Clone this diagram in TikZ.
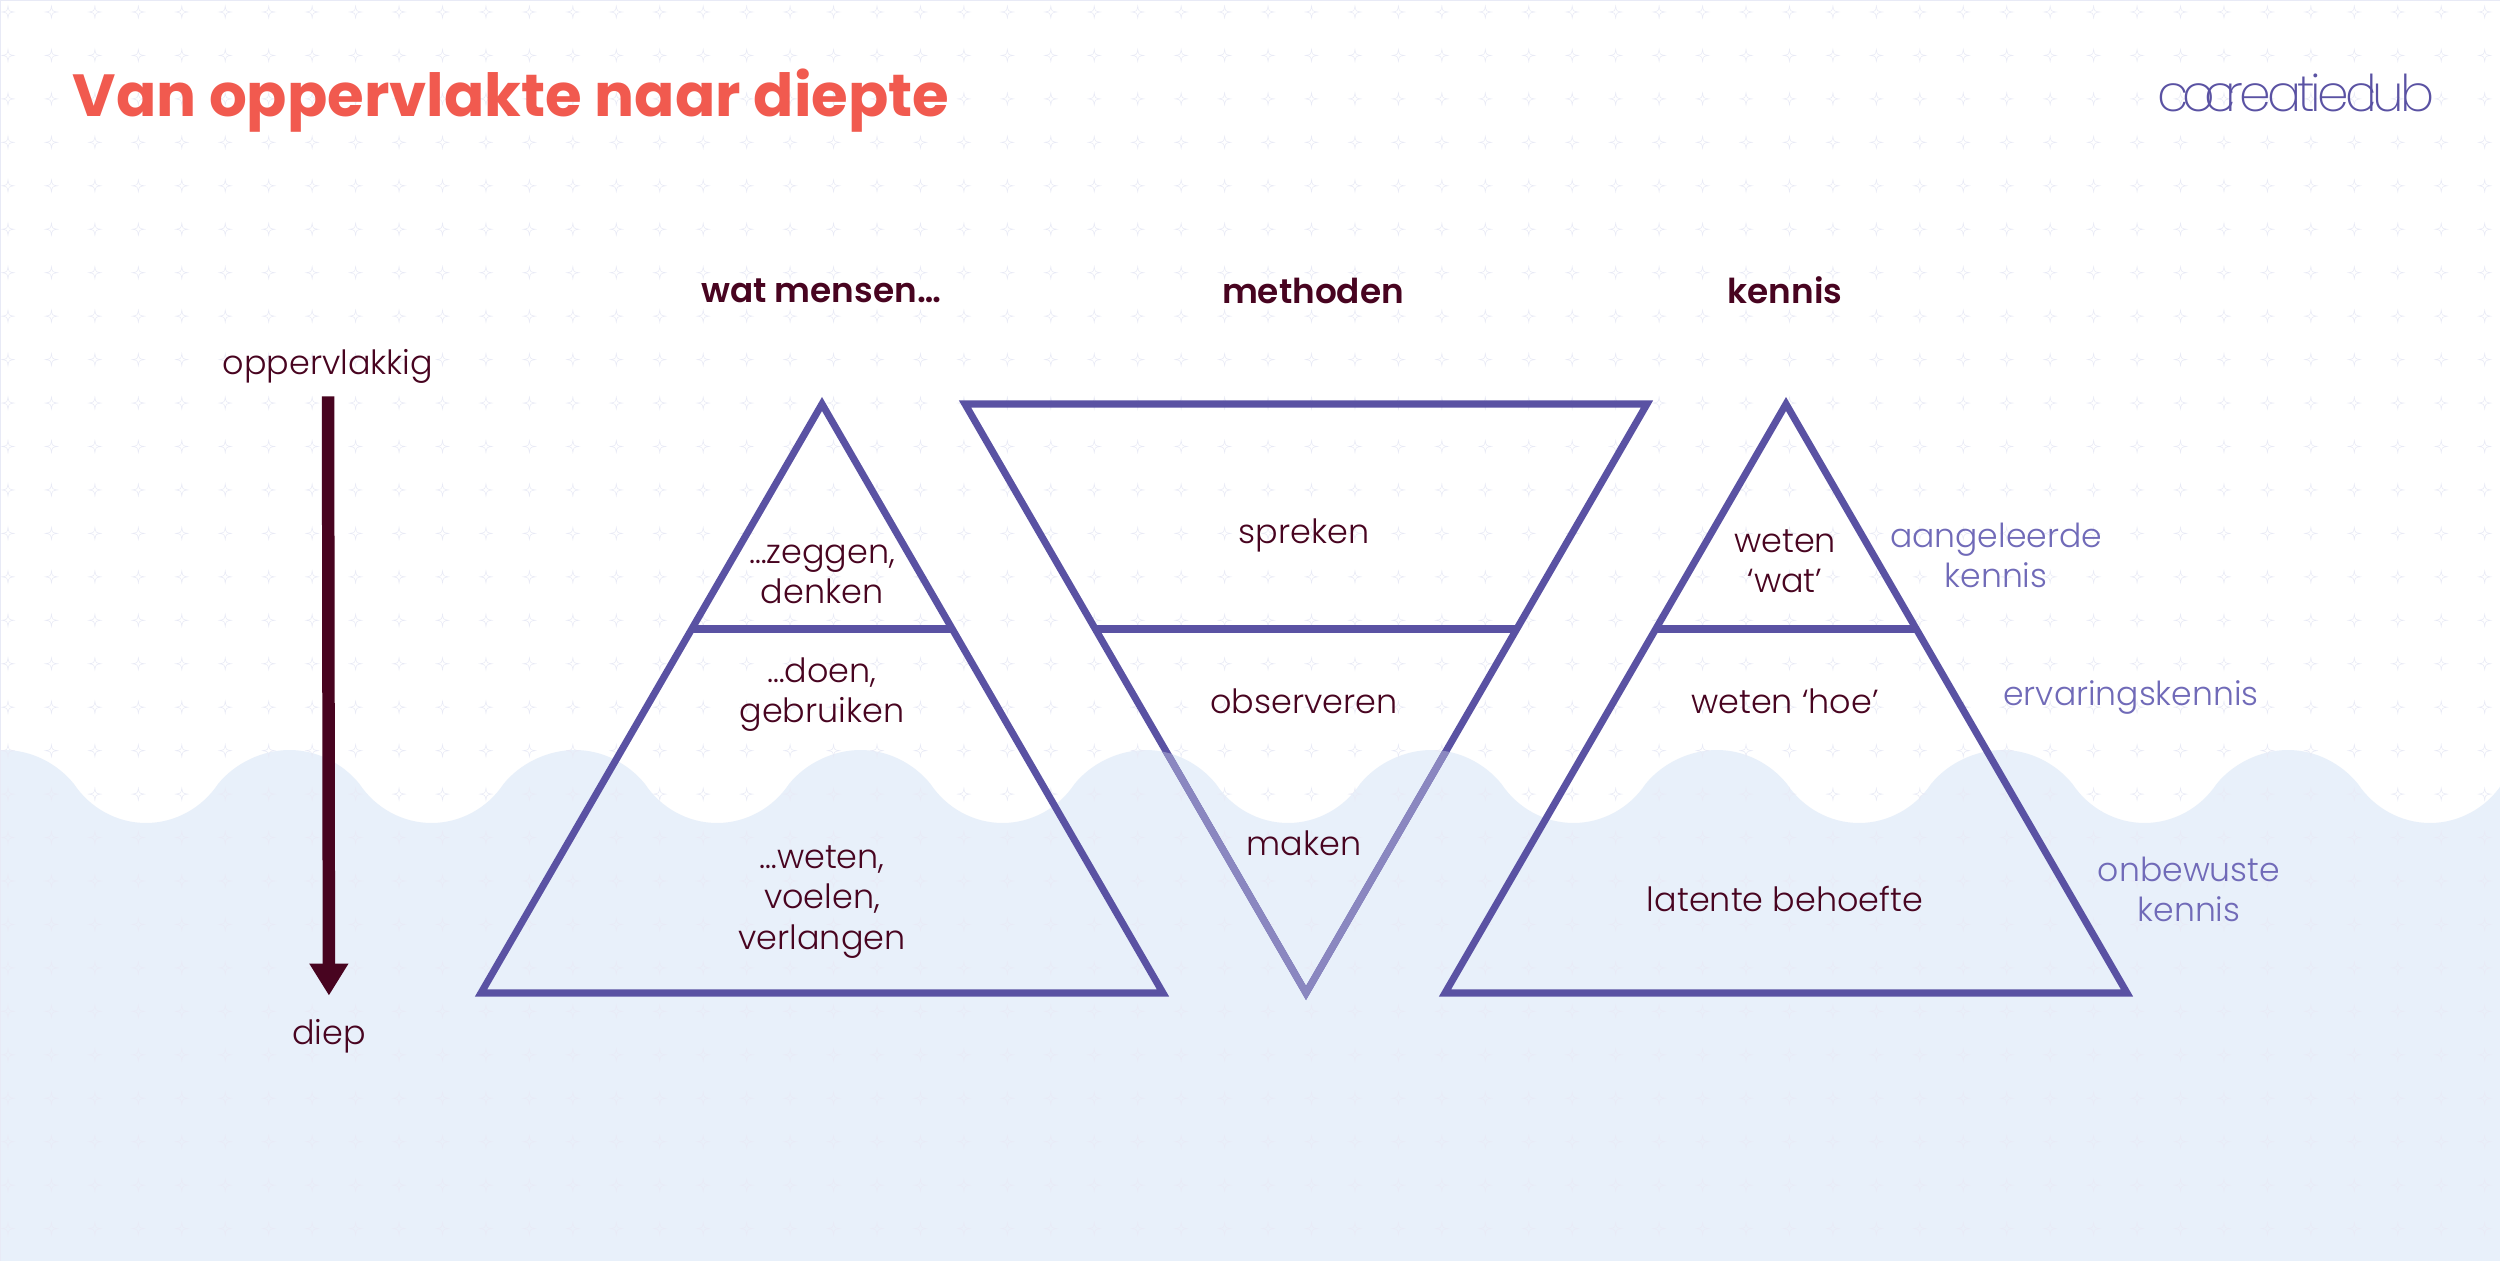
\documentclass[tikz,border=0pt]{standalone}
\usepackage{fontspec}
\setmainfont{Poppins Light}
\newfontfamily\boldfont{Poppins Bold}
\newfontfamily\semifont{Poppins SemiBold}
\newfontfamily\logofont[LetterSpace=-8]{Poppins ExtraLight}
\usetikzlibrary{positioning,calc}
\usetikzlibrary{arrows.meta}
\definecolor{TitleRed}{RGB}{241,90,79}
\definecolor{InkDark}{RGB}{72,4,32}
\definecolor{PyrBlue}{RGB}{90,82,163}
\definecolor{PyrPale}{RGB}{138,135,192}
\definecolor{SideBlue}{RGB}{112,106,184}
\definecolor{WaterBlue}{RGB}{232,240,250}
\definecolor{StarGray}{RGB}{232,234,246}
\newcommand{\waveline}{(0,1261) -- (0,750) -- (4,750)
  foreach \k in {1,...,9} {
    .. controls +(27,0) and +(-17,-21) .. ++(70,34)
    .. controls +(16,24) and +(-29,0) .. ++(72,39)
    .. controls +(29,0) and +(-16,24) .. ++(72,-39)
    .. controls +(17,-21) and +(-27,0) .. ++(71.5,-34)
  } -- (2600,1261) -- cycle}
\tikzset{
  water/.style={fill=WaterBlue},
  pyr/.style={draw=PyrBlue,line width=2pt},
  pyrpale/.style={draw=PyrPale,line width=2pt},
  lbl/.style={text=InkDark,font=\fontsize{9.5}{11.4}\selectfont,align=center,inner sep=0pt},
  head/.style={text=InkDark,font=\semifont\fontsize{9.75}{11.4}\selectfont,align=center,inner sep=0pt},
  side/.style={text=SideBlue,font=\fontsize{9.4}{11.4}\selectfont,align=center,inner sep=0pt},
  sparkle/.pic={\draw[StarGray,line width=0.15pt] (0,-6) .. controls (0.8,-0.8) .. (6,0)
    .. controls (0.8,0.8) .. (0,6) .. controls (-0.8,0.8) .. (-6,0)
    .. controls (-0.8,-0.8) .. cycle;},
}
\begin{document}
\begin{tikzpicture}[x=0.01cm,y=-0.01cm]
\useasboundingbox (0,0) rectangle (2500,1261);
\clip (0,0) rectangle (2500,1261);
\fill[white] (0,0) rectangle (2500,1261);
\fill[water] \waveline;
\foreach \i in {0,...,57} {
  \foreach \j in {0,...,29} {
    \pic at ({8+43.45*\i},{12+43.45*\j}) {sparkle};
  }
}
\draw[StarGray,line width=0.6pt] (0,1261) -- (0,0) -- (2500,0);
\coordinate (a1) at (822,404);
\coordinate (a2) at (481,993);
\coordinate (a3) at (1163,993);
\coordinate (a4) at (692,629);
\coordinate (a5) at (952,629);
\coordinate (b1) at (965,404);
\coordinate (b2) at (1647,404);
\coordinate (b3) at (1306,993);
\coordinate (b4) at (1096,629);
\coordinate (b5) at (1516,629);
\coordinate (c1) at (1786,404);
\coordinate (c2) at (1445,993);
\coordinate (c3) at (2127,993);
\coordinate (c4) at (1656,629);
\coordinate (c5) at (1916,629);
\draw[pyr] (a1)--(a2)--(a3)--cycle;
\draw[pyr] (a4)--(a5);
\draw[pyr] (b1)--(b2)--(b3)--cycle;
\draw[pyr] (b4)--(b5);
\begin{scope}
\clip \waveline;
\draw[pyrpale] (b1)--(b2)--(b3)--cycle;
\end{scope}
\draw[pyr] (c1)--(c2)--(c3)--cycle;
\draw[pyr] (c4)--(c5);
\node[anchor=base west,inner sep=0pt,text=TitleRed,font=\boldfont\fontsize{16.9}{20}\selectfont] (title) at (72,117) {Van oppervlakte naar diepte};
\node[anchor=base west,inner sep=0pt,text=PyrBlue,font=\logofont\fontsize{14.4}{18}\selectfont] (logo) at (2157,112) {c\kern-1.8pt o\kern-3pt c\kern-3pt reatie\kern-1pt c\kern-3pt lub};
\node[head] (hwat) at (821,291) {wat mensen…};
\node[head] (hmet) at (1313,291) {methoden};
\node[head] (hken) at (1785,290) {kennis};
\node[lbl] (opp) at (328,366) {oppervlakkig};
\node[lbl] (diep) at (329,1036) {diep};
\draw[InkDark,line width=3.55pt,-{Triangle[length=9.1pt,width=10.5pt]},shorten <=3.6pt,shorten >=6.5pt] (opp) -- (diep);
\node[lbl] (zeg) at (822,574) {…zeggen,\\denken};
\node[lbl] (doen) at (822,695) {…doen,\\gebruiken};
\node[lbl] (voel) at (822,902) {…weten,\\voelen,\\verlangen};
\node[lbl] (spr) at (1304,535) {spreken};
\node[lbl] (obs) at (1304,701) {observeren};
\node[lbl] (mak) at (1304,843) {maken};
\node[lbl] (wat) at (1785,561) {weten\\‘wat’};
\node[lbl] (hoe) at (1785,701) {weten ‘hoe’};
\node[lbl] (lat) at (1785,899) {latente behoefte};
\node[side] (aan) at (1996,555) {aangeleerde\\kennis};
\node[side] (erv) at (2131,697) {ervaringskennis};
\node[side] (onb) at (2189,889) {onbewuste\\kennis};
\end{tikzpicture}
\end{document}
